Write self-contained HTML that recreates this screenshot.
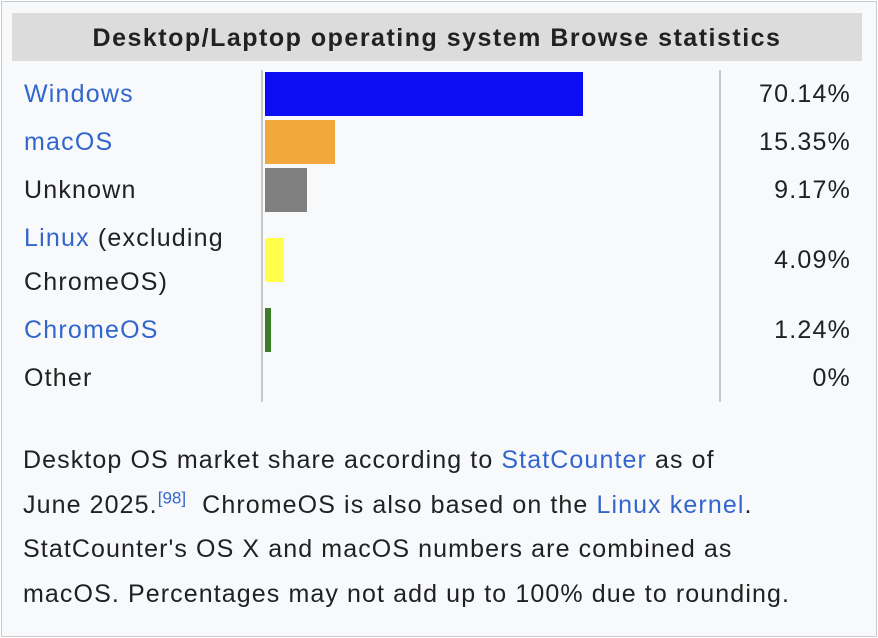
<!DOCTYPE html>
<html><head><meta charset="utf-8"><style>
body{margin:0;width:878px;height:638px;background:#fff;font-family:"Liberation Sans",Arial,sans-serif;color:#202122;overflow:hidden}
#box{position:absolute;left:1px;top:1px;width:874px;height:634px;border:1px solid #c8ccd1;background:#f8f9fa}
#hdr{position:absolute;left:12px;top:13px;width:850px;height:48px;background:#dcdcdc;font-weight:bold;font-size:25px;letter-spacing:1.5px;text-align:center;line-height:50px;white-space:nowrap}
.lab{position:absolute;left:24px;font-size:25px;letter-spacing:1.2px;line-height:44px;white-space:nowrap}
.val{position:absolute;right:27px;font-size:25px;letter-spacing:1.2px;line-height:48px;text-align:right}
a{color:#3366cc;text-decoration:none}
.vline{position:absolute;width:2px;background:#c8c8c8;top:70px;height:332px}
.bar{position:absolute;left:265px}
#cap{position:absolute;left:23px;top:438px;width:850px;font-size:25px;letter-spacing:1.1px;line-height:44.5px;white-space:nowrap}
sup{font-size:17px;line-height:0;letter-spacing:0}
</style></head><body>
<div id="box"></div>
<div id="hdr">Desktop/Laptop operating system Browse statistics</div>
<div class="vline" style="left:261px"></div>
<div class="vline" style="left:719px"></div>
<div id="rows"></div>
<div id="cap">Desktop OS market share according to <a href="#">StatCounter</a> as of<br>June 2025.<sup><a href="#">[98]</a></sup>&nbsp; ChromeOS is also based on the <a href="#">Linux kernel</a>.<br>StatCounter's OS X and macOS numbers are combined as<br>macOS. Percentages may not add up to 100% due to rounding.</div>
<script>
const categories=["Windows","macOS","Unknown","Linux","ChromeOS","Other"];
const values=[70.14,15.35,9.17,4.09,1.24,0];
const valueLabels=["70.14%","15.35%","9.17%","4.09%","1.24%","0%"];
const colors=["#0c0cf5","#f0a83c","#808080","#ffff4c","#3d7d28","#000"];
const links=[true,true,false,true,true,false];
const rows=document.getElementById('rows');
const scale=318/70.14;
let y=70;
categories.forEach((c,i)=>{
  const h=c==="Linux"?92:48;
  const lab=document.createElement('div');
  lab.className='lab';
  lab.style.top=(y+2)+'px';
  
  
  lab.innerHTML=c==="Linux"?'<a href="#">Linux</a> (excluding<br>ChromeOS)':(links[i]?'<a href="#">'+c+'</a>':c);
  rows.appendChild(lab);
  const bar=document.createElement('div');
  bar.className='bar';
  
  
  bar.style.top=(y+h/2-22)+'px';
  bar.style.height='44px';
  bar.style.width=(values[i]*scale)+'px';
  bar.style.background=colors[i];
  rows.appendChild(bar);
  const v=document.createElement('div');
  v.className='val';
  
  
  v.style.top=(y+h/2-24)+'px';
  v.textContent=valueLabels[i];
  rows.appendChild(v);
  y+=h;
});
</script>
</body></html>
